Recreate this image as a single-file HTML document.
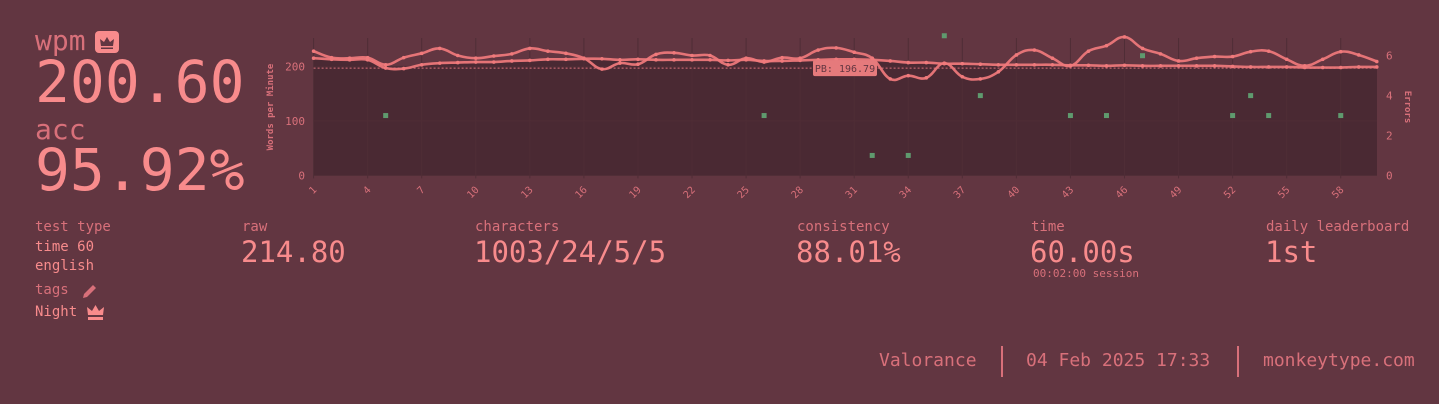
<!DOCTYPE html>
<html><head><meta charset="utf-8"><style>
html,body{margin:0;padding:0;}
body{width:1439px;height:404px;background:#623641;font-family:"DejaVu Sans Mono","Liberation Mono",monospace;color:#f88b8c;position:relative;overflow:hidden;}
.a{position:absolute;white-space:nowrap;}
.sub{color:#d8707a;}
</style></head><body>
<div class="a sub" style="left:35px;top:24px;font-size:28px;">wpm</div>
<div class="a" style="left:95px;top:31px;width:24px;height:22px;background:#f88b8c;border-radius:4px;">
<svg width="24" height="22" viewBox="0 0 24 22"><path d="M6 15 L5 8 L9 11 L12 6 L15 11 L19 8 L18 15 Z M6 16.5 H18 V18 H6Z" fill="#623641"/></svg></div>
<div class="a" style="left:35px;top:50px;font-size:58px;line-height:64px;">200.60</div>
<div class="a sub" style="left:35px;top:113px;font-size:28px;">acc</div>
<div class="a" style="left:35px;top:138px;font-size:58px;line-height:64px;">95.92%</div>

<svg class="a" style="left:0;top:0" width="1439" height="210" id="chart"></svg>

<div class="a sub" style="left:35px;top:219px;font-size:14px;">test type</div>
<div class="a" style="left:35px;top:238px;font-size:14px;line-height:19px;">time 60<br>english</div>
<div class="a sub" style="left:35px;top:282px;font-size:14px;">tags</div>
<svg class="a" style="left:81px;top:283px" width="17" height="17"><path d="M2 15 L3 11 L12 2 L15 5 L6 14 Z" fill="#d8707a"/></svg>
<div class="a" style="left:35px;top:304px;font-size:14px;">Night</div>
<svg class="a" style="left:86px;top:304px" width="19" height="17"><path d="M2 11 L1 3 L6 7 L9.5 1 L13 7 L18 3 L17 11 Z M2 13 H17 V16 H2Z" fill="#f88b8c"/></svg>

<div class="a sub" style="left:242px;top:219px;font-size:14px;">raw</div>
<div class="a" style="left:241px;top:235px;font-size:29px;">214.80</div>
<div class="a sub" style="left:475px;top:219px;font-size:14px;">characters</div>
<div class="a" style="left:474px;top:235px;font-size:29px;">1003/24/5/5</div>
<div class="a sub" style="left:797px;top:219px;font-size:14px;">consistency</div>
<div class="a" style="left:796px;top:235px;font-size:29px;">88.01%</div>
<div class="a sub" style="left:1031px;top:219px;font-size:14px;">time</div>
<div class="a" style="left:1030px;top:235px;font-size:29px;">60.00s</div>
<div class="a sub" style="left:1033px;top:267px;font-size:11px;">00:02:00 session</div>
<div class="a sub" style="left:1266px;top:219px;font-size:14px;">daily leaderboard</div>
<div class="a" style="left:1265px;top:235px;font-size:29px;">1st</div>

<div class="a sub" style="left:879px;top:350px;font-size:18px;">Valorance</div>
<div class="a" style="left:1001px;top:346px;width:2px;height:31px;background:#d8707a;"></div>
<div class="a sub" style="left:1026px;top:350px;font-size:18px;">04 Feb 2025 17:33</div>
<div class="a" style="left:1237px;top:346px;width:2px;height:31px;background:#d8707a;"></div>
<div class="a sub" style="left:1263px;top:350px;font-size:18px;">monkeytype.com</div>

<script>
const seconds = Array.from({length:60},(_,i)=>i+1);
const wpmValues = [215,213,212,212,197,196,203,206,207,208,208,210,211,213,213,214,214,212,213,212,212,212,212,211,212,210,210,211,212,213,213,212,210,207,207,205,205,204,203,203,203,203,202,202,201,202,201,201,201,201,201,200,199,199,199,198,198,198,199,199];
const rawValues = [228,216,215,216,203,216,224,233,220,215,219,223,233,228,224,215,195,206,204,222,225,220,220,203,215,208,216,215,230,234,226,215,177,183,179,206,181,177,190,221,230,215,201,228,238,254,233,223,210,215,218,218,227,228,213,201,213,227,221,209];
const errorSeconds = [5,26,32,34,36,38,43,45,47,52,53,54,58];
const errorCounts = [3,3,1,1,7,4,3,3,6,3,4,3,3];
const wpmTicks = [0,100,200];
const errTicks = [0,2,4,6];
const pbValue = 196.79;

const svg=document.getElementById('chart');
const NS='http://www.w3.org/2000/svg';
const X0=313.6, DX=18.02, Y0=175.4, WS=0.545, ES=19.95;
const PL=313.6, PR=1377, PT=38;
const xs=s=>X0+(s-1)*DX;
const yw=v=>Y0-v*WS;
const ye=v=>Y0-v*ES;
function mk(t,attrs){const e=document.createElementNS(NS,t);for(const k in attrs)e.setAttribute(k,attrs[k]);svg.appendChild(e);return e;}
function smooth(pts){let d=`M${pts[0][0]},${pts[0][1]}`;for(let i=0;i<pts.length-1;i++){const p0=pts[i-1]||pts[i],p1=pts[i],p2=pts[i+1],p3=pts[i+2]||p2;const t=0.2;d+=` C${p1[0]+(p2[0]-p0[0])*t},${p1[1]+(p2[1]-p0[1])*t} ${p2[0]-(p3[0]-p1[0])*t},${p2[1]-(p3[1]-p1[1])*t} ${p2[0]},${p2[1]}`;}return d;}

const wpts=seconds.map((s,i)=>[xs(s),yw(wpmValues[i])]);
const rpts=seconds.map((s,i)=>[xs(s),yw(rawValues[i])]);
let area=mk('path',{d:smooth(wpts)+` L${PR},${wpts[wpts.length-1][1]} L${PR},${Y0} L${PL},${Y0} Z`,fill:'#4a2933'});


seconds.forEach(s=>{if((s-1)%3===0){const g=mk('line',{x1:xs(s),x2:xs(s),y1:PT,y2:Y0+3,stroke:'#4f2d36','stroke-width':1});


const t=mk('text',{x:xs(s),y:Y0+14,fill:'#d8707a','font-size':10,'text-anchor':'end',transform:`rotate(-45 ${xs(s)+3} ${Y0+10})`,'font-family':'DejaVu Sans Mono, monospace'});t.textContent=s;

}});
wpmTicks.forEach(v=>{const g=mk('line',{x1:PL,x2:PR,y1:yw(v),y2:yw(v),stroke:'#4f2d36','stroke-width':1});


const t=mk('text',{x:305,y:yw(v)+4,fill:'#d8707a','font-size':11,'text-anchor':'end','font-family':'DejaVu Sans Mono, monospace'});t.textContent=v;

});
errTicks.forEach(v=>{const t=mk('text',{x:1386,y:ye(v)+4,fill:'#d8707a','font-size':11,'font-family':'DejaVu Sans Mono, monospace'});t.textContent=v;

});
let yt=mk('text',{x:0,y:0,fill:'#d8707a','font-size':9,'font-weight':'bold','text-anchor':'middle',transform:'translate(273,107) rotate(-90)','font-family':'DejaVu Sans Mono, monospace'});yt.textContent='Words per Minute';


let et=mk('text',{x:0,y:0,fill:'#d8707a','font-size':9,'font-weight':'bold','text-anchor':'middle',transform:'translate(1405,107) rotate(90)','font-family':'DejaVu Sans Mono, monospace'});et.textContent='Errors';


let pb=mk('line',{x1:PL,x2:PR,y1:yw(pbValue),y2:yw(pbValue),stroke:'#d8707a','stroke-width':1,'stroke-dasharray':'2,2'});


[[rpts,'raw-line'],[wpts,'wpm-line']].forEach(([p,n])=>{const l=mk('path',{d:smooth(p),fill:'none',stroke:'#f07a7c','stroke-width':2.6,opacity:0.92});


p.forEach(q=>{const c=mk('circle',{cx:q[0],cy:q[1],r:1.8,fill:'#f07a7c'});

});});
errorSeconds.forEach((s,i)=>{const r=mk('rect',{x:xs(s)-2.5,y:ye(errorCounts[i])-2.5,width:5,height:5,fill:'#5f9a6e'});

});
const pbx=813, pby=yw(pbValue);
let lb=mk('rect',{x:pbx,y:pby-8,width:64,height:16,rx:2,fill:'#e57a7c'});


let lt=mk('text',{x:pbx+32,y:pby+4,fill:'#623641','font-size':10,'text-anchor':'middle','font-family':'DejaVu Sans Mono, monospace'});lt.textContent='PB: '+pbValue;


</script>
</body></html>
